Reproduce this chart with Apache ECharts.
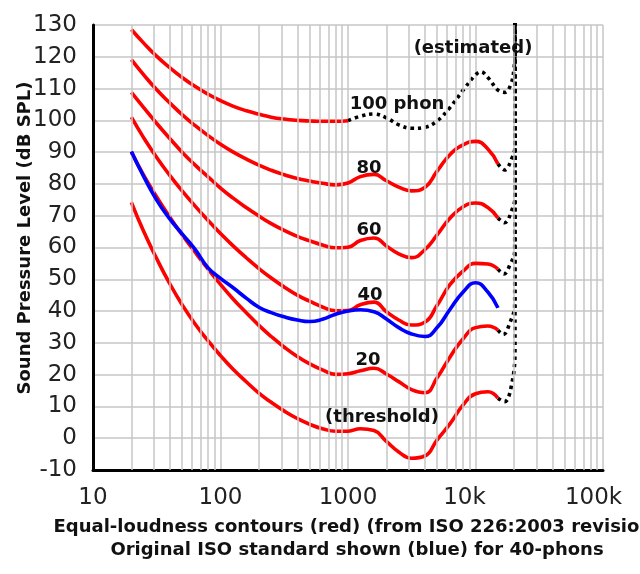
<!DOCTYPE html>
<html><head><meta charset="utf-8">
<script src="https://cdn.jsdelivr.net/npm/echarts@6/dist/echarts.min.js"></script>
<style>html,body{margin:0;padding:0;background:#fff}#c{width:640px;height:574px}</style>
</head><body><div id="c"></div>
<script>
// Frequencies (Hz) of the ISO 226:2003 contours (red)
const freqs = [20,25,31.5,40,50,63,80,100,125,160,200,250,315,400,500,630,800,1000,1250,1600,2000,2500,3150,4000,5000,6300,8000,10000,12500,15000];
const phon0  = [74.2,65.0,56.6,48.6,42.0,36.0,30.6,26.0,21.8,17.7,14.2,11.3,8.6,6.2,4.4,3.0,2.2,2.2,3.0,2.4,-1.0,-4.3,-6.3,-5.6,-0.5,4.5,10.5,14.0,14.6,12.6];
const phon20 = [90.0,82.7,76.0,69.6,64.0,58.6,53.2,48.4,43.9,39.4,35.5,32.0,28.7,25.7,23.4,21.5,20.1,20.3,21.2,22.0,20.2,17.8,15.3,14.3,19.0,25.5,31.3,34.8,35.3,34.0];
const phon40 = [101.0,94.5,88.4,82.7,77.8,73.1,68.5,64.4,60.6,56.7,53.4,50.4,47.6,45.0,43.1,41.3,40.1,40.2,42.0,42.8,39.8,37.2,35.6,36.5,41.8,48.3,52.6,55.0,54.8,53.2];
const phon60 = [108.8,104.0,99.1,94.3,90.0,86.0,82.2,78.7,75.6,72.5,69.9,67.5,65.4,63.5,62.1,60.8,59.9,60.1,62.2,63.0,60.5,58.0,56.8,59.3,64.0,69.2,72.8,74.0,72.6,69.3];
const phon80 = [119.1,114.3,109.7,105.5,101.8,98.4,95.2,92.5,90.1,87.8,85.9,84.3,82.9,81.7,80.9,80.2,79.7,80.3,82.3,83.0,81.0,79.0,77.8,78.9,84.0,89.2,92.3,93.4,91.0,86.3];
const phon100Freqs = [20,25,31.5,40,50,63,80,100,125,160,200,250,315,400,500,630,800,1000];
const phon100 = [128.6,124.3,120.2,116.6,113.5,110.7,108.2,106.2,104.5,103.0,101.9,101.0,100.4,100.0,99.8,99.7,99.7,99.9];
// Original ISO standard 40-phon contour (blue)
const isoOld40 = [90.2,82.3,75.0,69.0,64.3,59.5,53.6,50.3,47.4,44.0,41.2,39.5,38.2,37.2,36.7,37.4,39.0,40.0,40.4,39.8,37.5,34.8,32.8,32.0,34.8,40.5,46.0,48.9,46.0,41.0];
// Estimated (dotted) extensions
const est100F = [1000,1250,1600,2000,2500,3150,4000,5000,6300,8000,10000,11000,12500,15000,17000,19000,20000,20400,20400];
const est100  = [99.9,101.3,102.0,100.8,98.6,97.5,97.8,99.8,104.0,109.5,114.3,115.3,113.5,109.5,108.8,111.5,116.0,122.0,135];
const est80F = [15000,16900,19300,20400,20400];
const est80  = [86.3,84.4,88.1,92.0,135];
const est60F = [15000,16900,19300,20400,20400];
const est60  = [69.3,67.8,71.8,76.0,135];
const est40F = [15000,16700,18600,20300,20400];
const est40  = [53.2,51.7,54.5,59.0,135];
const est20F = [15000,16500,18600,20300,20400];
const est20  = [34.0,32.6,36.3,42.0,135];
const est0F  = [15000,16900,19300,20400,20400];
const est0   = [12.6,11.5,17.3,27.8,135];
// Axis ticks
const yTicks = {min:-10, max:130, step:10};
const xDecades = [10,100,1000,10000];
const xMinorMult = [2,3,4,5,6,7,8,9];
const xLabelText = {10:'10',100:'100',1000:'1000',10000:'10k',100000:'100k'};

const pair = (fs, vs) => fs.map((f,i)=>[f, vs[i]]);
const FONT = '"DejaVu Sans", "Noto Sans", sans-serif';
const GRID_C = '#c6c6c6';

function red(vals, fs) {
  return {type:'line', data: pair(fs||freqs, vals), showSymbol:false, symbol:'none', smooth:0.5, z:4,
    lineStyle:{color:'#ff0000', width:3.6}, silent:true, animation:false};
}
function dotted(fs, vals) {
  return {type:'line', data: pair(fs, vals), showSymbol:false, symbol:'none', smooth:0.4, z:3,
    lineStyle:{color:'#000', width:3.6, type:[3.4,4], cap:'butt'}, silent:true, animation:false};
}

const chart = echarts.init(document.getElementById('c'), null, {renderer:'canvas'});
const minorLines = xDecades.flatMap(d => xMinorMult.map(m => ({xAxis: d*m})));

chart.setOption({
  backgroundColor:'#fff',
  animation:false,
  grid:{left:93, right:37, top:25, bottom:104, containLabel:false, outerBoundsMode:'none'},
  xAxis:{type:'log', logBase:10, min:10, max:100000,
    axisLine:{show:true, onZero:false, lineStyle:{color:'#000', width:3}},
    axisTick:{show:false},
    splitLine:{show:true, lineStyle:{color:GRID_C, width:1.5}},
    axisLabel:{margin:17, color:'#222', fontFamily:FONT, fontSize:23,
      formatter: v => { const k = Math.round(v); const t = xLabelText[k] || String(k);
        if (k===10000) return '{a|'+t+'}'; if (k===100000) return '{b|'+t+'}'; return '{n|'+t+'}'; },
      rich:{ n:{fontSize:23, fontFamily:FONT, color:'#222'},
             a:{fontSize:23, fontFamily:FONT, color:'#222', padding:[0,22,0,0]},
             b:{fontSize:23, fontFamily:FONT, color:'#222', padding:[0,19,0,0]} } }
  },
  yAxis:{type:'value', min:yTicks.min, max:yTicks.max, interval:yTicks.step,
    axisLine:{show:true, onZero:false, lineStyle:{color:'#000', width:3}},
    axisTick:{show:false},
    splitLine:{show:true, lineStyle:{color:GRID_C, width:1.5}},
    axisLabel:{margin:16, color:'#222', fontFamily:FONT, fontSize:23}
  },
  series:[
    {type:'line', data:[], z:1, silent:true, animation:false,
     markLine:{silent:true, symbol:['none','none'], animation:false, label:{show:false},
       lineStyle:{type:'solid', color:GRID_C, width:1.5}, emphasis:{disabled:true}, data:minorLines}},
    dotted(est100F, est100), dotted(est80F, est80), dotted(est60F, est60),
    dotted(est40F, est40), dotted(est20F, est20), dotted(est0F, est0),
    red(phon0), red(phon20), red(phon40), red(phon60), red(phon80), red(phon100, phon100Freqs),
    {type:'line', data: pair(freqs, isoOld40), showSymbol:false, symbol:'none', smooth:0.5, z:5,
     lineStyle:{color:'#0000ff', width:3.6}, silent:true, animation:false}
  ],
  graphic:[
    {type:'text', x:25, y:238, rotation:Math.PI/2, style:{text:'Sound Pressure Level (dB SPL)', font:'bold 18px '+FONT, fill:'#111', textAlign:'center', textVerticalAlign:'middle'}},
    {type:'text', x:357, y:527, style:{text:'Equal-loudness contours (red) (from ISO 226:2003 revision)', font:'bold 18px '+FONT, fill:'#111', textAlign:'center', textVerticalAlign:'middle'}},
    {type:'text', x:357, y:550, style:{text:'Original ISO standard shown (blue) for 40-phons', font:'bold 18px '+FONT, fill:'#111', textAlign:'center', textVerticalAlign:'middle'}},
    {type:'text', x:473, y:48, z:10, style:{text:'(estimated)', font:'bold 18px '+FONT, fill:'#111', textAlign:'center', textVerticalAlign:'middle'}},
    {type:'text', x:397, y:104, z:10, style:{text:'100 phon', font:'bold 18px '+FONT, fill:'#111', textAlign:'center', textVerticalAlign:'middle'}},
    {type:'text', x:369, y:168, z:10, style:{text:'80', font:'bold 18px '+FONT, fill:'#111', textAlign:'center', textVerticalAlign:'middle'}},
    {type:'text', x:369, y:230, z:10, style:{text:'60', font:'bold 18px '+FONT, fill:'#111', textAlign:'center', textVerticalAlign:'middle'}},
    {type:'text', x:370, y:295, z:10, style:{text:'40', font:'bold 18px '+FONT, fill:'#111', textAlign:'center', textVerticalAlign:'middle'}},
    {type:'text', x:368, y:360, z:10, style:{text:'20', font:'bold 18px '+FONT, fill:'#111', textAlign:'center', textVerticalAlign:'middle'}},
    {type:'text', x:382, y:417, z:10, style:{text:'(threshold)', font:'bold 18px '+FONT, fill:'#111', textAlign:'center', textVerticalAlign:'middle'}}
  ]
});
</script></body></html>
